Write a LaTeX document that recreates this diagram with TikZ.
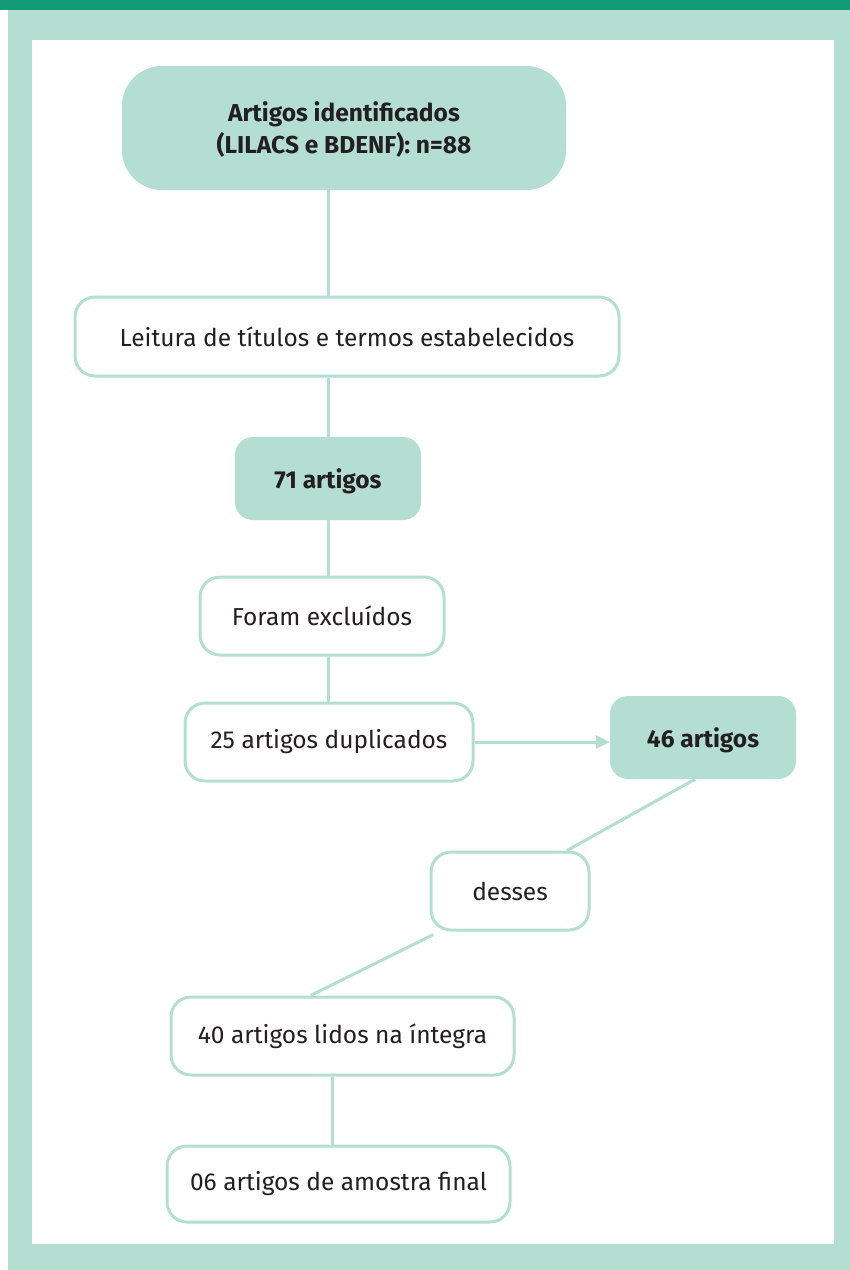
\documentclass[tikz,border=0pt]{standalone}
\usepackage{fontspec}
\setmainfont{Fira Sans}
\usepackage{tikz}
\usetikzlibrary{arrows.meta,positioning,calc}

\definecolor{darkgreen}{HTML}{139B78}
\definecolor{lightgreen}{HTML}{B3DED1}
\definecolor{txt}{HTML}{231F20}

\begin{document}
\begin{tikzpicture}[
  x=1pt, y=-1pt,
  filled/.style={rectangle, fill=lightgreen, rounded corners=18pt, font=\fontsize{24.5}{32}\selectfont\bfseries, text=txt, align=center, inner sep=0pt, text depth=0pt},
  plain/.style={rectangle, draw=lightgreen, line width=3pt, fill=white, rounded corners=20pt, font=\fontsize{24.5}{30}\selectfont, text=txt, align=center, inner sep=0pt},
  conn/.style={draw=lightgreen, line width=3pt},
  arrow/.style={conn, -{Triangle[length=14pt, width=13pt]}}
]
\useasboundingbox (0,0) rectangle (850,1270);

% Frame
\fill[lightgreen] (8,10) rectangle (850,1270);
\fill[darkgreen] (0,0) rectangle (850,10);
\fill[white] (32,40) rectangle (834,1244);

% Top
\node[filled, rounded corners=40pt, minimum width=444pt, minimum height=124pt] (ident) at (344,128) {Artigos identificados\\(LILACS e BDENF): n=88};

% Screening
\node[plain, minimum width=544pt, minimum height=79pt] (leitura) at (347,336.5) {Leitura de títulos e termos estabelecidos};
\node[filled, minimum width=186pt, minimum height=83pt] (art71) at (328,478.5) {71 artigos};
\node[plain, minimum width=244pt, minimum height=78pt] (excl) at (322,616) {Foram excluídos};
\node[plain, minimum width=288pt, minimum height=78pt] (dup) at (329,742) {25 artigos duplicados};
\node[filled, minimum width=186pt, minimum height=83pt] (art46) at (703,737.5) {46 artigos};

% Final
\node[plain, minimum width=158pt, minimum height=78pt] (desses) at (510,891) {desses};
\node[plain, minimum width=343pt, minimum height=78pt] (lidos) at (342.5,1036) {40 artigos lidos na íntegra};
\node[plain, minimum width=343pt, minimum height=76pt] (amostra) at (338.5,1184) {06 artigos de amostra final};

% Connectors
\draw[conn] (ident.south -| art71) -- (leitura.north -| art71);
\draw[conn] (leitura.south -| art71) -- (art71.north);
\draw[conn] (art71.south) -- (excl.north -| art71);
\draw[conn] (excl.south -| art71) -- (dup.north -| art71);
\draw[arrow] (dup.east) -- (dup.east -| art46.west);
\draw[conn] ([xshift=-8pt]art46.south) -- ([xshift=57pt]desses.north);
\draw[conn] ([shift={(4pt,-3pt)}]desses.south west) -- ([xshift=-32pt]lidos.north);
\draw[conn] ([xshift=-10pt]lidos.south) -- ([xshift=-6pt]amostra.north);

\end{tikzpicture}
\end{document}
